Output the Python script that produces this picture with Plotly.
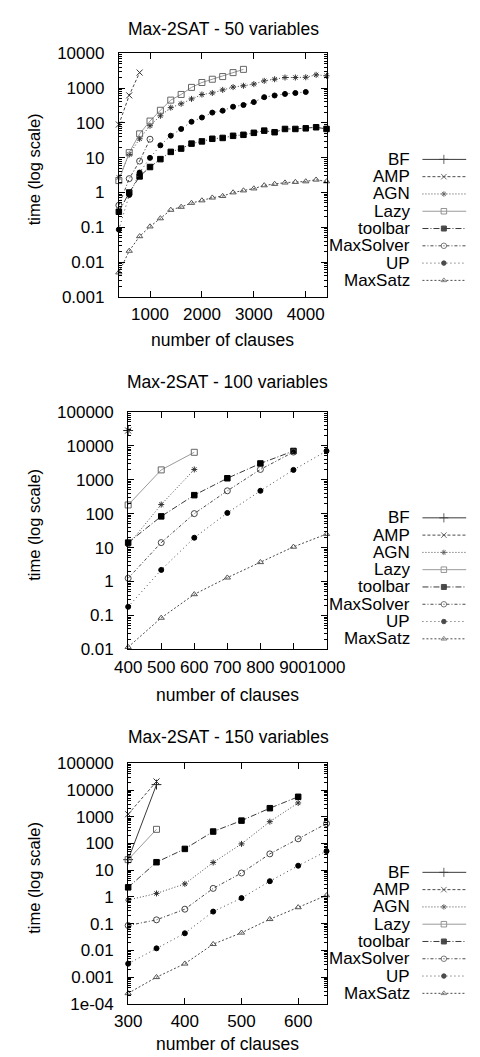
import plotly.graph_objects as go

W, H = 480, 1057
FONT = "Liberation Sans, Arial, Helvetica, sans-serif"

# ---------------- data ----------------
series = ["BF", "AMP", "AGN", "Lazy", "toolbar", "MaxSolver", "UP", "MaxSatz"]

# Panel 1: 50 variables
x50 = list(range(400, 4401, 200))
bf_50 = []
amp_50 = [90, 620, 2800]
agn_50 = [2.7, 12.4, 35, 83, 160, 275, 356, 490, 655, 725, 890, 1070, 1170, 1306,
          1620, 1800, 2020, 2020, 2050, 2410, 2260]
lazy_50 = [2.2, 14, 48.5, 113, 231, 452, 658, 1050, 1450, 1800, 2150, 2790, 3460]
toolbar_50 = [0.28, 1.0, 2.9, 5.4, 9.1, 14.7, 18.3, 25.4, 29.4, 35, 37, 42.6, 45.5,
              51.9, 60, 54, 67, 67, 70, 75, 67]
maxsolver_50 = [0.43, 2.5, 8, 34]
up_50 = [0.086, 0.85, 3.75, 9.9, 22.7, 43, 67, 108, 143, 198, 225, 292, 327, 397,
         550, 614, 681, 725, 775]
maxsatz_50 = [0.005, 0.021, 0.055, 0.105, 0.18, 0.316, 0.385, 0.5, 0.59, 0.71, 0.79,
              1.0, 1.14, 1.3, 1.6, 1.76, 1.92, 2.0, 2.08, 2.33, 2.08]

# Panel 2: 100 variables
x100 = list(range(400, 1001, 100))
bf_100 = [28000]
amp_100 = [28000]
agn_100 = [12, 185, 2000]
lazy_100 = [180, 1940, 6400]
toolbar_100 = [14, 83, 350, 1100, 3000, 7000]
maxsolver_100 = [1.25, 14, 100, 470, 2000, 6500]
up_100 = [0.18, 2.2, 19.5, 105, 470, 1940, 7000]
maxsatz_100 = [0.0117, 0.085, 0.42, 1.3, 3.7, 10.5, 25]

# Panel 3: 150 variables
x150 = list(range(300, 651, 50))
bf_150 = [25, 16000]
amp_150 = [1250, 21000]
agn_150 = [0.77, 1.36, 3.1, 19.5, 97, 660, 3300]
lazy_150 = [25, 340]
toolbar_150 = [2.3, 20, 63, 281, 720, 2100, 5600]
maxsolver_150 = [0.086, 0.14, 0.35, 2.1, 7.9, 41, 150, 560]
up_150 = [0.0032, 0.012, 0.044, 0.285, 0.91, 3.9, 14.8, 52]
maxsatz_150 = [0.00025, 0.001, 0.0032, 0.0172, 0.046, 0.148, 0.41, 1.15]

titles = ["Max-2SAT - 50 variables", "Max-2SAT - 100 variables", "Max-2SAT - 150 variables"]
xlabel = "number of clauses"
ylabel = "time (log scale)"

x_ticks = [[1000, 2000, 3000, 4000],
           [400, 500, 600, 700, 800, 900, 1000],
           [300, 400, 500, 600]]
x_ranges = [[400, 4400], [400, 1000], [300, 650]]
y_tickvals = [[0.001, 0.01, 0.1, 1, 10, 100, 1000, 10000],
              [0.01, 0.1, 1, 10, 100, 1000, 10000, 100000],
              [1e-4, 0.001, 0.01, 0.1, 1, 10, 100, 1000, 10000, 100000]]
y_ticktext = [["0.001", "0.01", "0.1", "1", "10", "100", "1000", "10000"],
              ["0.01", "0.1", "1", "10", "100", "1000", "10000", "100000"],
              ["1e-04", "0.001", "0.01", "0.1", "1", "10", "100", "1000", "10000", "100000"]]
y_ranges = [[-3, 4], [-2, 5], [-4, 5]]

panels = [
    (x50, [bf_50, amp_50, agn_50, lazy_50, toolbar_50, maxsolver_50, up_50, maxsatz_50]),
    (x100, [bf_100, amp_100, agn_100, lazy_100, toolbar_100, maxsolver_100, up_100, maxsatz_100]),
    (x150, [bf_150, amp_150, agn_150, lazy_150, toolbar_150, maxsolver_150, up_150, maxsatz_150]),
]

# ---------------- styles / layout ----------------
styles = {
    "BF":        dict(color="#3a3a3a", dash="solid", symbol="cross-thin", size=7),
    "AMP":       dict(color="#4a4a4a", dash="3px,2px", symbol="x-thin", size=6),
    "AGN":       dict(color="#4a4a4a", dash="1px,2px", symbol="asterisk", size=5),
    "Lazy":      dict(color="#9a9a9a", dash="solid", symbol="square-open", size=6),
    "toolbar":   dict(color="#3a3a3a", dash="6px,2px,1px,2px", symbol="square", size=5.5),
    "MaxSolver": dict(color="#4a4a4a", dash="3px,2px,1px,2px", symbol="circle-open", size=6),
    "UP":        dict(color="#4a4a4a", dash="1px,3px", symbol="circle", size=5),
    "MaxSatz":   dict(color="#4a4a4a", dash="2px,2px", symbol="triangle-up-open", size=5.5),
}
marker_color = {"BF": "#222", "AMP": "#333", "AGN": "#333", "Lazy": "#666",
                "toolbar": "#000", "MaxSolver": "#444", "UP": "#000", "MaxSatz": "#555"}

# plot boxes in pixels: (left, right, top, bottom)
boxes = [(104, 327, 37, 285), (114, 327, 402, 644), (114, 327, 760, 1005)]
title_pos = [(216, 12), (221, 372), (222, 733)]
xtitle_y = [329, 690, 1046]
legend_top = [145, 510, 871]
LEG_DY = 17.6


def px(x):
    return x / W


def py(y):
    return 1 - y / H


fig = go.Figure()
layout = dict(width=W, height=H, autosize=False, margin=dict(l=0, r=0, t=0, b=0),
              paper_bgcolor="white", plot_bgcolor="rgba(0,0,0,0)", showlegend=False,
              font=dict(family=FONT, size=17, color="black"))
annotations = []
shapes = []

for i, (xs, data) in enumerate(panels):
    n = "" if i == 0 else str(i + 1)
    l, r, t, b = boxes[i]
    for name, ys in zip(series, data):
        if not ys:
            continue
        st = styles[name]
        fig.add_trace(go.Scatter(
            x=xs[:len(ys)], y=ys, mode="lines+markers", name=name,
            xaxis="x" + n, yaxis="y" + n, cliponaxis=False,
            line=dict(color=st["color"], width=1, dash=st["dash"]),
            marker=dict(symbol=st["symbol"], size=st["size"], color=marker_color[name],
                        line=dict(width=1, color=marker_color[name])),
        ))
    layout["xaxis" + n] = dict(
        domain=[px(l), px(r)], range=x_ranges[i], anchor="y" + n,
        tickmode="array", tickvals=x_ticks[i], ticktext=[str(v) for v in x_ticks[i]],
        ticks="inside", ticklen=6, tickcolor="black", mirror="allticks", tickangle=0,
        showline=True, linecolor="black", linewidth=1, showgrid=False, zeroline=False,
        tickfont=dict(size=17), ticklabelstandoff=2)
    layout["yaxis" + n] = dict(
        type="log", domain=[py(b), py(t)], range=y_ranges[i], anchor="x" + n,
        tickmode="array", tickvals=y_tickvals[i], ticktext=y_ticktext[i],
        ticks="inside", ticklen=6, tickcolor="black", mirror="allticks",
        showline=True, linecolor="black", linewidth=1, showgrid=False, zeroline=False,
        tickfont=dict(size=17), ticklabelstandoff=10,
        minor=dict(ticks="inside", ticklen=3, tickcolor="black", dtick="D1", showgrid=False))
    # titles
    annotations.append(dict(text=titles[i], x=px(title_pos[i][0]), y=py(title_pos[i][1]),
                            xref="paper", yref="paper", showarrow=False,
                            xanchor="center", yanchor="middle", font=dict(size=17.5)))
    annotations.append(dict(text=xlabel, x=px((l + r) / 2), y=py(xtitle_y[i]),
                            xref="paper", yref="paper", showarrow=False,
                            xanchor="center", yanchor="middle", font=dict(size=17.5)))
    annotations.append(dict(text=ylabel, x=px(13), y=py((t + b) / 2 - 6),
                            xref="paper", yref="paper", showarrow=False, textangle=-90,
                            xanchor="center", yanchor="middle", font=dict(size=16.5)))
    # legend (gnuplot style: right aligned text, sample on the right)
    for k, name in enumerate(series):
        st = styles[name]
        yy = legend_top[i] + k * LEG_DY
        annotations.append(dict(text=name, x=px(419), y=py(yy), xref="paper", yref="paper",
                                showarrow=False, xanchor="right", yanchor="middle",
                                font=dict(size=17)))
        shapes.append(dict(type="line", xref="paper", yref="paper",
                           x0=px(430), x1=px(477), y0=py(yy), y1=py(yy),
                           line=dict(color=st["color"], width=1, dash=st["dash"])))

# legend key markers on a separate full-page pixel axis
leg_x, leg_y, leg_sym, leg_size, leg_col = [], [], [], [], []
for i in range(3):
    for k, name in enumerate(series):
        leg_x.append(453)
        leg_y.append(legend_top[i] + k * LEG_DY)
        leg_sym.append(styles[name]["symbol"])
        leg_size.append(styles[name]["size"] - 0.5)
        leg_col.append(marker_color[name])
fig.add_trace(go.Scatter(x=leg_x, y=leg_y, mode="markers", xaxis="x4", yaxis="y4",
                         cliponaxis=False, hoverinfo="skip",
                         marker=dict(symbol=leg_sym, size=leg_size, color=leg_col,
                                     line=dict(width=1, color=leg_col))))
layout["xaxis4"] = dict(domain=[0, 1], range=[0, W], visible=False, anchor="y4",
                        fixedrange=True)
layout["yaxis4"] = dict(domain=[0, 1], range=[H, 0], visible=False, anchor="x4",
                        fixedrange=True)

layout["annotations"] = annotations
layout["shapes"] = shapes
fig.update_layout(**layout)
fig.write_html("out.html")
